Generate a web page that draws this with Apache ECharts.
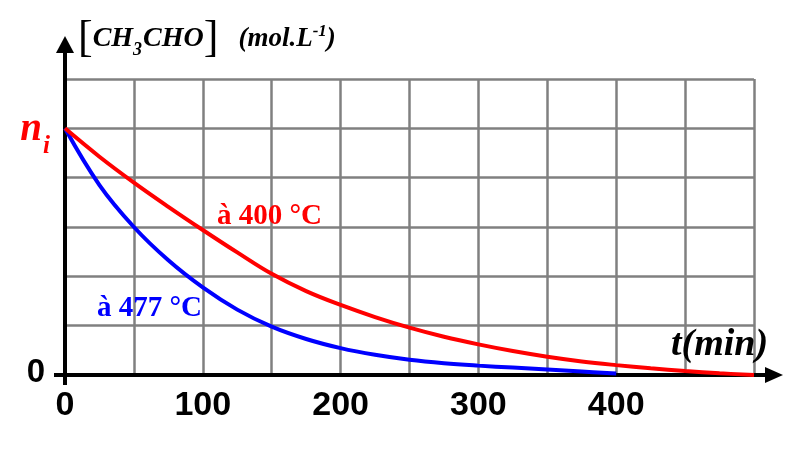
<!DOCTYPE html>
<html>
<head>
<meta charset="utf-8">
<script src="https://cdn.jsdelivr.net/npm/echarts@6/dist/echarts.min.js"></script>
<style>
  html, body { margin: 0; padding: 0; background: #fff; }
  #chart { width: 800px; height: 462px; }
</style>
</head>
<body>
<div id="chart"></div>
<script>
// time axis (min) and concentration (relative to n_i)
const timesRed  = [0, 25, 50, 75, 100, 125, 150, 175, 200, 225, 250, 275, 300, 325, 350, 375, 400, 425, 450, 475, 500];
const valuesRed = [1, 0.885, 0.78, 0.682, 0.588, 0.497, 0.41, 0.34, 0.284, 0.235, 0.192, 0.155, 0.124, 0.097, 0.074, 0.055, 0.04, 0.027, 0.016, 0.007, 0];
const timesBlue  = [0, 25, 50, 75, 100, 125, 150, 175, 200, 225, 250, 275, 300, 325, 350, 375, 400];
const valuesBlue = [1, 0.77, 0.6, 0.465, 0.355, 0.265, 0.196, 0.146, 0.109, 0.082, 0.062, 0.048, 0.038, 0.03, 0.022, 0.014, 0.006];
const xTickLabels = [0, 100, 200, 300, 400];

const serif = '"Liberation Serif", "DejaVu Serif", serif';
const sans = '"Liberation Sans", Arial, sans-serif';

const chart = echarts.init(document.getElementById('chart'));

const pairs = (xs, ys) => xs.map((x, i) => [x, ys[i]]);

chart.setOption({
  animation: false,
  grid: { left: 65, right: 46, top: 79, bottom: 87 },
  xAxis: {
    type: 'value', min: 0, max: 500, interval: 50,
    axisLine: { show: false },
    axisTick: { show: false },
    axisLabel: {
      margin: 14,
      color: '#000',
      fontFamily: sans, fontWeight: 'bold', fontSize: 34,
      formatter: v => xTickLabels.indexOf(v) >= 0 ? String(v) : ''
    },
    splitLine: { lineStyle: { color: '#808080', width: 2.5 } }
  },
  yAxis: {
    type: 'value', min: 0, max: 1.2, interval: 0.2,
    axisLine: { show: false },
    axisTick: { show: false },
    axisLabel: {
      margin: 15,
      formatter: v => {
        if (v === 0) return '{z|0}';
        if (Math.abs(v - 1) < 1e-6) return '{n|n}{i|i}';
        return '';
      },
      rich: {
        z: { fontFamily: sans, fontWeight: 'bold', fontSize: 33, color: '#000', padding: [0, 5, 4, 0] },
        n: { fontFamily: serif, fontStyle: 'italic', fontWeight: 'bold', fontSize: 39, color: '#ff0000', verticalAlign: 'bottom', lineHeight: 42 },
        i: { fontFamily: serif, fontStyle: 'italic', fontWeight: 'bold', fontSize: 25, color: '#ff0000', verticalAlign: 'bottom', padding: [0, 0, -10, 1] }
      }
    },
    splitLine: { lineStyle: { color: '#808080', width: 2.5 } }
  },
  series: [
    {
      name: 'à 477 °C', type: 'line', smooth: 0.4, showSymbol: false,
      data: pairs(timesBlue, valuesBlue),
      lineStyle: { color: '#0000ff', width: 4 }, z: 3
    },
    {
      name: 'à 400 °C', type: 'line', smooth: 0.4, showSymbol: false,
      data: pairs(timesRed, valuesRed),
      lineStyle: { color: '#ff0000', width: 4 }, z: 4
    }
  ]
});

// axes with arrows, drawn from the grid's origin
const o = chart.convertToPixel({ gridIndex: 0 }, [0, 0]);
const xEnd = chart.convertToPixel({ gridIndex: 0 }, [500, 0]);
const yTop = chart.convertToPixel({ gridIndex: 0 }, [0, 1.2]);

chart.setOption({
  graphic: [
    { type: 'line', z: 2, shape: { x1: o[0] - 11, y1: o[1], x2: xEnd[0] + 14, y2: o[1] }, style: { stroke: '#000', lineWidth: 4 } },
    { type: 'polygon', z: 2, shape: { points: [[xEnd[0] + 11, o[1] - 8], [xEnd[0] + 29, o[1]], [xEnd[0] + 11, o[1] + 8]] }, style: { fill: '#000' } },
    { type: 'line', z: 2, shape: { x1: o[0], y1: o[1] + 10, x2: o[0], y2: yTop[1] - 28 }, style: { stroke: '#000', lineWidth: 4 } },
    { type: 'polygon', z: 2, shape: { points: [[o[0] - 9, yTop[1] - 26], [o[0], yTop[1] - 43], [o[0] + 9, yTop[1] - 26]] }, style: { fill: '#000' } },
    {
      type: 'text', left: 78, top: 17, z: 5,
      style: {
        text: '{b|[}{t|CH}{s|3}{t|CHO}{b|]}{g| }{u|(mol.L}{p|-1}{u|)}',
        rich: {
          b: { fontFamily: serif, fontSize: 44, fontWeight: 'normal', fill: '#000', lineHeight: 44, verticalAlign: 'middle' },
          t: { fontFamily: serif, fontSize: 28, fontWeight: 'bold', fontStyle: 'italic', fill: '#000', verticalAlign: 'middle' },
          s: { fontFamily: serif, fontSize: 18, fontWeight: 'bold', fontStyle: 'italic', fill: '#000', verticalAlign: 'bottom', padding: [0, 1, 2, 0] },
          g: { fontSize: 20, width: 20 },
          u: { fontFamily: serif, fontSize: 27, fontWeight: 'bold', fontStyle: 'italic', fill: '#000', verticalAlign: 'middle' },
          p: { fontFamily: serif, fontSize: 17, fontWeight: 'bold', fontStyle: 'italic', fill: '#000', verticalAlign: 'top', padding: [6, 0, 0, 0] }
        }
      }
    },
    {
      type: 'text', left: 671, top: 326, z: 5,
      style: { text: 't(min)', fontFamily: serif, fontSize: 38, fontWeight: 'bold', fontStyle: 'italic', fill: '#000' }
    },
    {
      type: 'text', left: 217, top: 202, z: 5,
      style: { text: 'à 400 °C', fontFamily: serif, fontSize: 29, fontWeight: 'bold', fill: '#ff0000' }
    },
    {
      type: 'text', left: 97, top: 294, z: 5,
      style: { text: 'à 477 °C', fontFamily: serif, fontSize: 29, fontWeight: 'bold', fill: '#0000ff' }
    }
  ]
});
</script>
</body>
</html>
